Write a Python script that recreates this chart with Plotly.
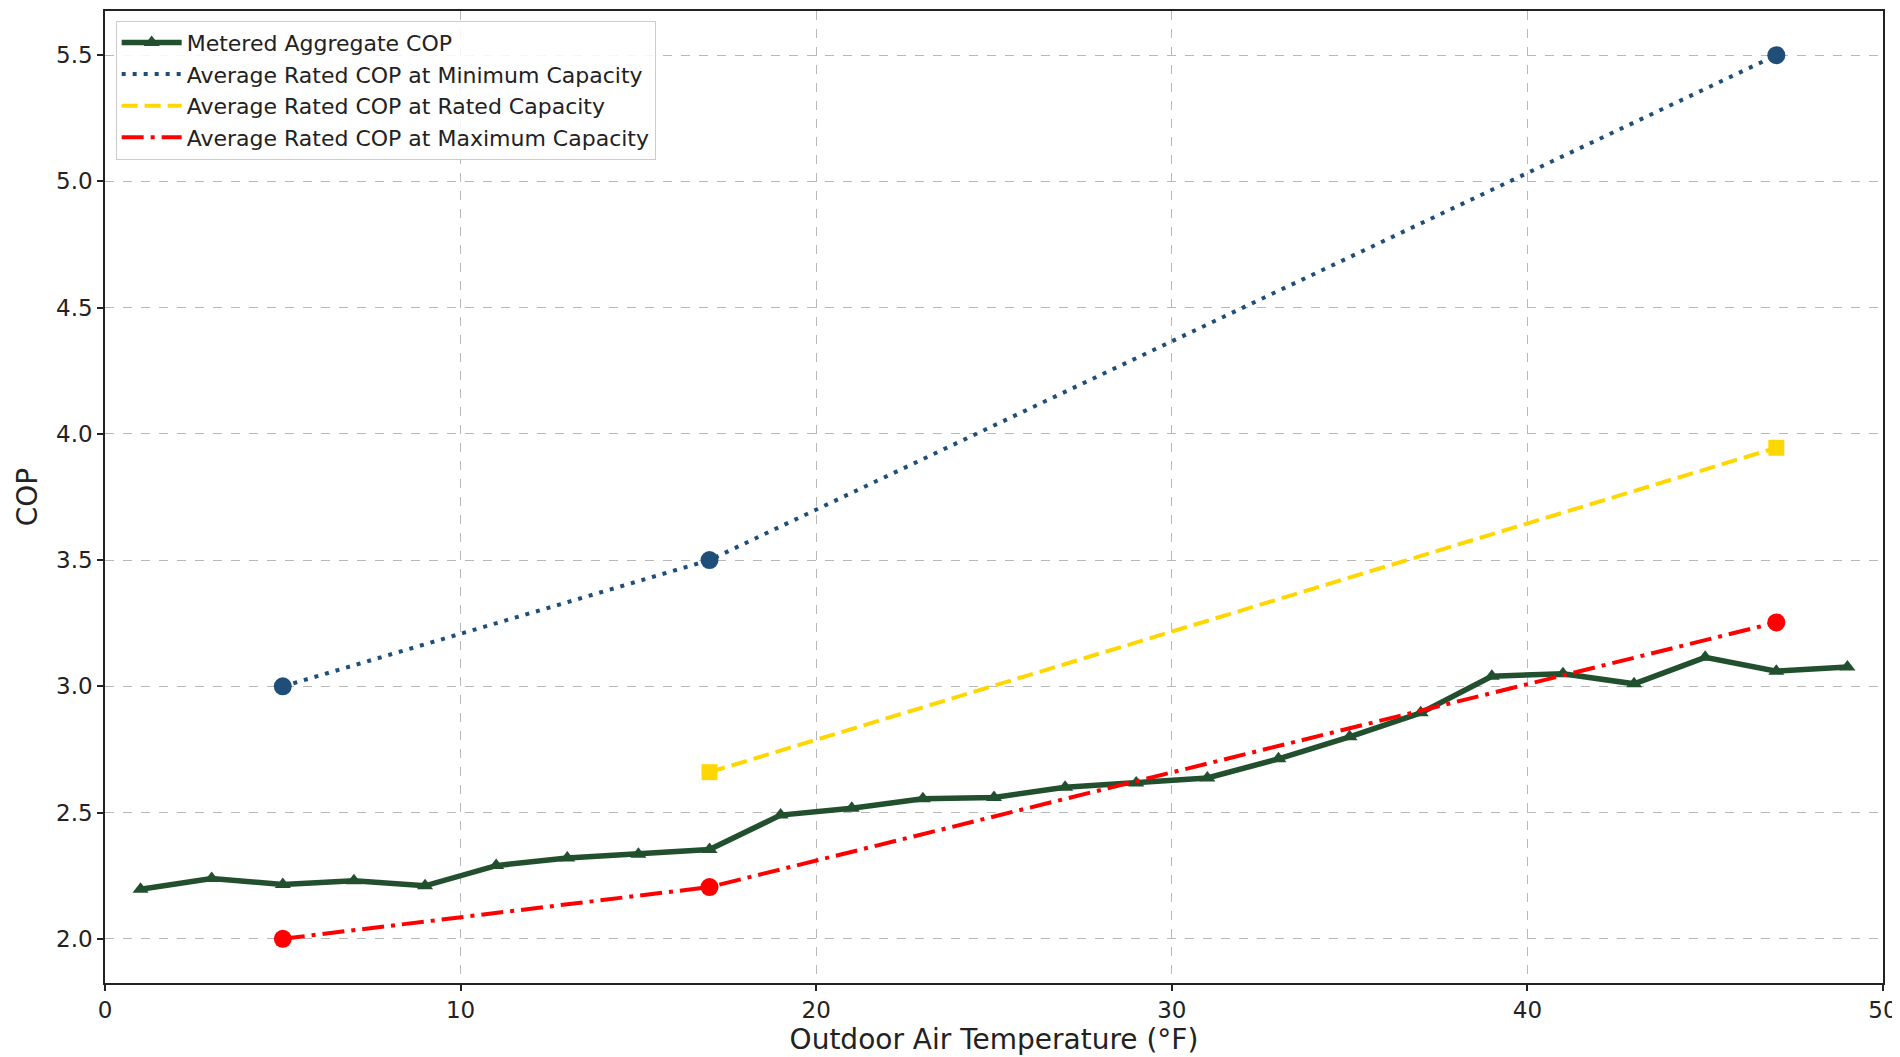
import plotly.graph_objects as go

metered_temp = [1, 3, 5, 7, 9, 11, 13, 15, 17, 19, 21, 23, 25, 27, 29, 31, 33, 35, 37, 39, 41, 43, 45, 47, 49]
metered_cop = [2.196, 2.239, 2.215, 2.23, 2.21, 2.29, 2.32, 2.335, 2.354, 2.49, 2.517, 2.555, 2.56, 2.60,
               2.617, 2.637, 2.713, 2.80, 2.895, 3.04, 3.05, 3.01, 3.115, 3.06, 3.077]

min_temp = [5, 17, 47]
min_cop = [3.0, 3.5, 5.5]

rated_temp = [17, 47]
rated_cop = [2.66, 3.945]

max_temp = [5, 17, 47]
max_cop = [2.0, 2.205, 3.253]

FONT = "DejaVu Sans"

fig = go.Figure()
fig.add_trace(go.Scatter(
    x=metered_temp, y=metered_cop, mode="lines+markers",
    name="Metered Aggregate COP",
    line=dict(color="#22502f", width=5.5),
    marker=dict(symbol="triangle-up", size=14, color="#22502f"),
))

rated_series = [
    (min_temp, min_cop, "Average Rated COP at Minimum Capacity", "#1f4e79", "4px,7px", "circle", 18),
    (rated_temp, rated_cop, "Average Rated COP at Rated Capacity", "#ffd700", "16px,7px", "square", 16),
    (max_temp, max_cop, "Average Rated COP at Maximum Capacity", "#ff0000", "22px,7px,4px,7px", "circle", 18),
]
for xs, ys, name, color, dash, sym, size in rated_series:
    fig.add_trace(go.Scatter(
        x=xs, y=ys, mode="lines", name=name,
        line=dict(color=color, width=4, dash=dash),
    ))
for xs, ys, name, color, dash, sym, size in rated_series:
    fig.add_trace(go.Scatter(
        x=xs, y=ys, mode="markers", name=name, showlegend=False,
        marker=dict(symbol=sym, size=size, color=color),
    ))

axis_common = dict(
    showline=True, linecolor="#222222", linewidth=1.5, mirror=True,
    ticks="outside", ticklen=6, tickwidth=1.5, tickcolor="#222222",
    showgrid=True, gridcolor="#b8b8b8", griddash="dash", gridwidth=1,
    zeroline=False,
    tickfont=dict(family=FONT, size=23, color="#222222"),
)

fig.update_layout(
    width=1900, height=1057,
    margin=dict(l=97, r=25, t=1, b=82),
    paper_bgcolor="white", plot_bgcolor="white",
    font=dict(family=FONT, color="#222222"),
    showlegend=True,
    legend=dict(
        x=0.006, y=0.99, xanchor="left", yanchor="top",
        bgcolor="rgba(255,255,255,0.85)", bordercolor="#cccccc", borderwidth=1,
        font=dict(family=FONT, size=22, color="#222222"),
        itemwidth=60,
    ),
    xaxis=dict(
        range=[0, 50], dtick=10,
        title=dict(text="Outdoor Air Temperature (°F)", font=dict(family=FONT, size=28), standoff=6),
        **axis_common,
    ),
    yaxis=dict(
        range=[1.825, 5.675], dtick=0.5, tickformat=".1f",
        title=dict(text="COP", font=dict(family=FONT, size=28), standoff=10),
        **axis_common,
    ),
)

fig.write_html("out.html")
